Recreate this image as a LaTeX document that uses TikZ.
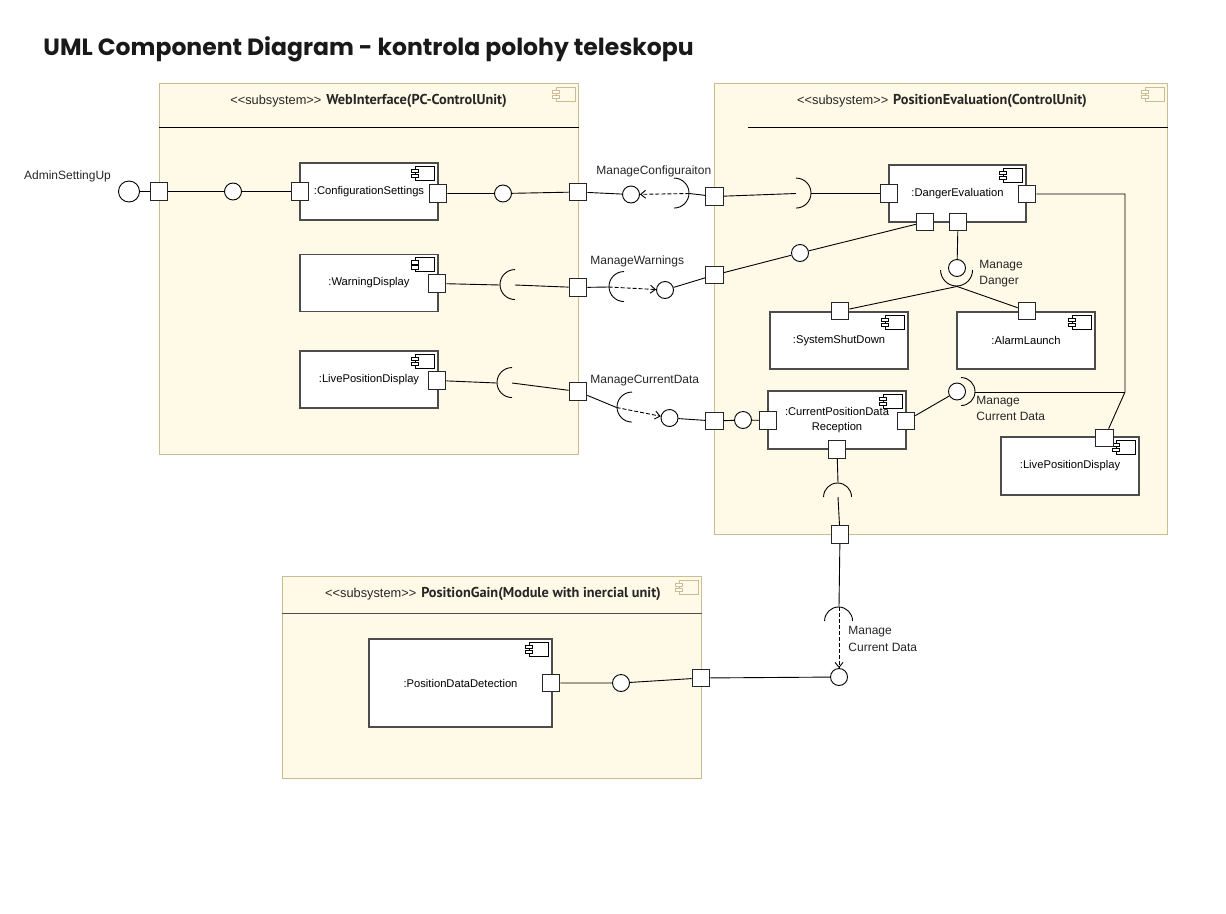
\documentclass[tikz,border=0pt]{standalone}
\usepackage{fontspec}
\setmainfont{Liberation Sans}
\newfontfamily\titlefont{Poppins}
\newfontfamily\namefont{PT Sans}
\usetikzlibrary{arrows.meta}
\definecolor{subfill}{RGB}{255,249,231}
\definecolor{subline}{RGB}{205,188,145}
\newcommand{\stereo}{<{}<subsystem>{}>\hspace{5pt}}
\newcommand{\bname}[1]{{\namefont\bfseries\fontsize{14.3}{16}\selectfont #1}}

\begin{document}
\begin{tikzpicture}[x=1pt,y=-1pt,line width=0.9pt,
  >={Straight Barb[length=5pt,width=8pt]},
  sub/.style={rectangle,draw=subline,fill=subfill,line width=1pt,anchor=north west},
  comp/.style={rectangle,draw=black!70,fill=white,line width=1.3pt,minimum width=138pt,minimum height=57pt,font=\fontsize{11.2}{14.5}\selectfont,align=center},
  port/.style={rectangle,draw=black!85,fill=white,line width=1.1pt,minimum size=17.5pt,inner sep=0pt},
  ball/.style={circle,draw,fill=white,minimum size=17pt,inner sep=0pt},
  sock/.style={circle,minimum size=30pt,inner sep=0pt},
  lbl/.style={anchor=west,align=left,inner sep=0pt,text=black!85,font=\fontsize{12}{16.5}\selectfont},
  ttl/.style={text=black!85,font=\fontsize{12.8}{15}\selectfont},
  dep/.style={->,dash pattern=on 4pt off 2pt},
  pics/cicon/.style={code={
    \draw[line width=0.8pt] (-23pt,-4pt) rectangle (-4pt,-18pt);
    \draw[line width=0.8pt,fill=white] (-27pt,-7pt) rectangle (-20pt,-10.5pt) (-27pt,-12pt) rectangle (-20pt,-15.5pt);}}]
\useasboundingbox (0,0) rectangle (1226,913);
\node[anchor=base west,inner sep=0pt,text=black!90,font=\titlefont\bfseries\fontsize{23.5}{28}\selectfont] (title) at (43,55) {UML Component Diagram - kontrola polohy teleskopu};

\path (159,83) node[sub,minimum width=419pt,minimum height=371pt] (wi) {}
  (714,83) node[sub,minimum width=453pt,minimum height=451pt] (pe) {}
  (282,576) node[sub,minimum width=419pt,minimum height=202pt] (pg) {};
\draw ([yshift=-44pt]wi.north west) -- ([yshift=-44pt]wi.north east);
\draw ([xshift=34pt,yshift=-44pt]pe.north west) -- ([yshift=-44pt]pe.north east);
\draw[black!70] ([yshift=-37pt]pg.north west) -- ([yshift=-37pt]pg.north east);
\foreach \s in {wi,pe,pg} \pic[subline] at (\s.north east) {cicon};
\path (368.5,100.5) node[ttl] (wit) {\stereo\bname{WebInterface(PC-ControlUnit)}}
  (942,100.5) node[ttl] (pet) {\stereo\bname{PositionEvaluation(ControlUnit)}}
  (493,593.5) node[ttl] (pgt) {\stereo\bname{PositionGain(Module with inercial unit)}};

\path (369,191.5) node[comp] (cs) {:ConfigurationSettings}
  (369,283) node[comp] (wd) {:WarningDisplay}
  (369,379.5) node[comp] (lpd) {:LivePositionDisplay}
  (957.5,193.5) node[comp,minimum width=137pt] (de) {:DangerEvaluation}
  (839,340.5) node[comp] (ssd) {:SystemShutDown}
  (1026,340.5) node[comp] (al) {:AlarmLaunch}
  (837,420) node[comp,minimum height=58pt] (cpd) {:CurrentPositionData\\Reception}
  (1070,466) node[comp,minimum height=58pt] (lpd2) {:LivePositionDisplay}
  (460.5,683) node[comp,minimum width=183pt,minimum height=88pt] (pdd) {:PositionDataDetection};
\foreach \c in {cs,wd,lpd,de,ssd,al,cpd,lpd2,pdd} \pic at (\c.north east) {cicon};

\path (159,191.5) node[port] (adp) {}
  (300,191.5) node[port] (csl) {}
  (438,193.5) node[port] (csr) {}
  (437,283.5) node[port] (wdp) {}
  (437,380.5) node[port] (lpp) {}
  (578,192) node[port] (wp1) {}
  (578,287.5) node[port] (wp2) {}
  (578,391.5) node[port] (wp3) {}
  (714.5,196.5) node[port] (pp1) {}
  (714.5,275) node[port] (pp2) {}
  (714.5,421) node[port] (pp3) {}
  (840,534.5) node[port] (pp4) {}
  (889,193.5) node[port] (del) {}
  (1027,194) node[port] (der) {}
  (925,222) node[port] (de1) {}
  (958,222) node[port] (de2) {}
  (840,311) node[port] (ssp) {}
  (1027,311) node[port] (alp) {}
  (768,420.5) node[port] (cpl) {}
  (906,421) node[port] (cpr) {}
  (837,449.5) node[port] (cpb) {}
  (1104.5,438) node[port] (lp2) {}
  (701,678) node[port] (pgp) {}
  (551,683) node[port] (pdp) {};

\path (129,191.5) node[ball,minimum size=21pt] (adm) {}
  (233,191.5) node[ball] (b1) {}
  (503,193.5) node[ball] (b2) {}
  (631,194.5) node[ball] (b3) {}
  (800,253) node[ball] (b4) {}
  (665,290) node[ball] (b5) {}
  (669.5,418) node[ball] (b6) {}
  (743,420) node[ball] (b7) {}
  (957,391.5) node[ball] (b8) {}
  (957,268) node[ball] (b9) {}
  (839,677) node[ball] (b10) {}
  (621,683) node[ball] (b11) {};

\path (674,193.5) node[sock] (s1) {}
  (796,193.5) node[sock] (s2) {}
  (624,287) node[sock] (s3) {}
  (515,285) node[sock] (s4) {}
  (512,383) node[sock] (s5) {}
  (632,407.5) node[sock] (s6) {}
  (961,392) node[sock,minimum size=28pt] (s7) {}
  (838,497) node[sock,minimum size=28pt] (s8) {}
  (839,621) node[sock,minimum size=28pt] (s9) {}
  (957,270) node[sock,minimum size=32pt] (s10) {};
\draw (s1.north) arc (90:-90:15pt) (s2.north) arc (90:-90:15pt);
\draw (s3.north) arc (90:270:15pt) (s4.north) arc (90:270:15pt) (s5.north) arc (90:270:15pt) (s6.north) arc (90:270:15pt);
\draw (s7.north) arc (90:-90:14pt) (s8.west) arc (180:0:14pt) (s9.west) arc (180:0:14pt) (s10.west) arc (180:360:16pt);

\coordinate (j1) at (1125,194);
\coordinate (j2) at (1125,392);
\draw (adm) -- (adp) -- (b1) -- (csl);
\draw (csr) -- (b2) -- (wp1) -- (b3);
\draw[dep] (s1.east) -- (b3);
\draw (s1.east) -- (pp1) -- (s2.center);
\draw (s2.east) -- (del);
\draw (wdp) -- (s4.west);
\draw (s4.center) -- (wp2) -- (s3.west);
\draw[dep] (s3.west) -- (b5);
\draw (b5) -- (pp2) -- (b4) -- (de1);
\draw (lpp) -- (s5.west);
\draw (s5.center) -- (wp3) -- (s6.west);
\draw[dep] (s6.west) -- (b6);
\draw (b6) -- (pp3) -- (b7) -- (cpl);
\draw (de2) -- (b9);
\draw (s10.south) -- (ssp);
\draw (s10.south) -- (alp);
\draw (cpr) -- (b8);
\draw (der) -- (j1) -- (j2) -- (lp2);
\draw (s7.east) -- (j2);
\draw (cpb) -- (s8.north);
\draw (s8.center) -- (pp4) -- (s9.north);
\draw[dep] (s9.north) -- (b10);
\draw (b10) -- (pgp) -- (b11) -- (pdp);

\path (67.5,176) node[lbl,anchor=center] (lad) {AdminSettingUp}
  (596,171) node[lbl] (lmc) {ManageConfiguraiton}
  (590,261.5) node[lbl] (lmw) {ManageWarnings}
  (590,380.5) node[lbl] (lmd) {ManageCurrentData}
  (979,273.5) node[lbl] (lmg) {Manage\\Danger}
  (976,408.5) node[lbl] (lcd) {Manage\\Current Data}
  (848,639) node[lbl] (lcd2) {Manage\\Current Data};
\end{tikzpicture}
\end{document}
